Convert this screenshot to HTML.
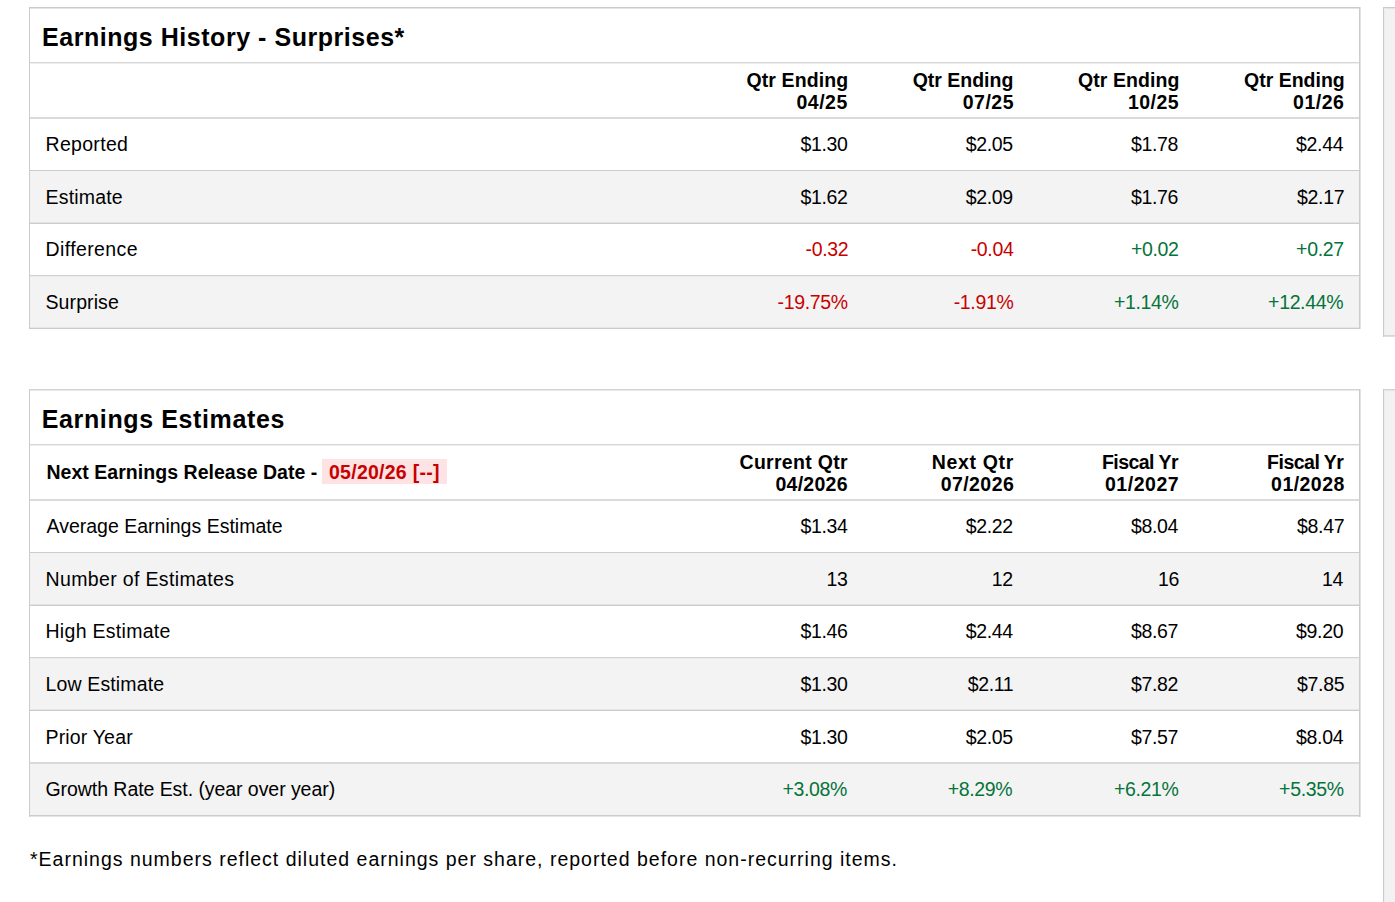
<!DOCTYPE html>
<html><head><meta charset="utf-8"><title>Earnings</title>
<style>
html,body{margin:0;padding:0;background:#fff;}
body{width:1395px;height:902px;overflow:hidden;position:relative;font-family:"Liberation Sans",sans-serif;}
.b{position:absolute;box-sizing:border-box;}
.t{position:absolute;white-space:pre;}
</style></head><body>

<div class="b" style="left:30px;top:171px;width:1329px;height:52px;background:#f3f3f3"></div>
<div class="b" style="left:30px;top:276px;width:1329px;height:52px;background:#f3f3f3"></div>
<div class="b" style="left:29px;top:7px;width:1px;height:322px;background:#cccccc"></div>
<div class="b" style="left:1359px;top:7px;width:1px;height:322px;background:#cccccc"></div>
<div class="b" style="left:1360px;top:7px;width:1px;height:322px;background:#e3e3e3"></div>
<div class="b" style="left:30px;top:7px;width:1329px;height:1px;background:#cbcbcb"></div>
<div class="b" style="left:30px;top:8px;width:1329px;height:1px;background:#e4e4e4"></div>
<div class="b" style="left:30px;top:62px;width:1329px;height:1px;background:#d6d6d6"></div>
<div class="b" style="left:30px;top:63px;width:1329px;height:1px;background:#efefef"></div>
<div class="b" style="left:30px;top:117px;width:1329px;height:1px;background:#dadada"></div>
<div class="b" style="left:30px;top:118px;width:1329px;height:1px;background:#dadada"></div>
<div class="b" style="left:30px;top:170px;width:1329px;height:1px;background:#cbcbcb"></div>
<div class="b" style="left:30px;top:222px;width:1329px;height:1px;background:#e2e2e2"></div>
<div class="b" style="left:30px;top:223px;width:1329px;height:1px;background:#cdcdcd"></div>
<div class="b" style="left:30px;top:275px;width:1329px;height:1px;background:#d0d0d0"></div>
<div class="b" style="left:30px;top:276px;width:1329px;height:1px;background:#ececec"></div>
<div class="b" style="left:30px;top:327px;width:1329px;height:1px;background:#e6e6e6"></div>
<div class="b" style="left:30px;top:328px;width:1329px;height:1px;background:#cacaca"></div>
<div class="b" style="left:30px;top:553px;width:1329px;height:52px;background:#f3f3f3"></div>
<div class="b" style="left:30px;top:658px;width:1329px;height:52px;background:#f3f3f3"></div>
<div class="b" style="left:30px;top:764px;width:1329px;height:52px;background:#f3f3f3"></div>
<div class="b" style="left:29px;top:389px;width:1px;height:428px;background:#cccccc"></div>
<div class="b" style="left:1359px;top:389px;width:1px;height:428px;background:#cccccc"></div>
<div class="b" style="left:1360px;top:389px;width:1px;height:428px;background:#e3e3e3"></div>
<div class="b" style="left:30px;top:389px;width:1329px;height:1px;background:#d3d3d3"></div>
<div class="b" style="left:30px;top:390px;width:1329px;height:1px;background:#e9e9e9"></div>
<div class="b" style="left:30px;top:444px;width:1329px;height:1px;background:#d6d6d6"></div>
<div class="b" style="left:30px;top:445px;width:1329px;height:1px;background:#eeeeee"></div>
<div class="b" style="left:30px;top:499px;width:1329px;height:1px;background:#dadada"></div>
<div class="b" style="left:30px;top:500px;width:1329px;height:1px;background:#dcdcdc"></div>
<div class="b" style="left:30px;top:552px;width:1329px;height:1px;background:#cccccc"></div>
<div class="b" style="left:30px;top:604px;width:1329px;height:1px;background:#e3e3e3"></div>
<div class="b" style="left:30px;top:605px;width:1329px;height:1px;background:#cccccc"></div>
<div class="b" style="left:30px;top:657px;width:1329px;height:1px;background:#d3d3d3"></div>
<div class="b" style="left:30px;top:658px;width:1329px;height:1px;background:#ececec"></div>
<div class="b" style="left:30px;top:709px;width:1329px;height:1px;background:#e6e6e6"></div>
<div class="b" style="left:30px;top:710px;width:1329px;height:1px;background:#cbcbcb"></div>
<div class="b" style="left:30px;top:762px;width:1329px;height:1px;background:#d8d8d8"></div>
<div class="b" style="left:30px;top:763px;width:1329px;height:1px;background:#dadada"></div>
<div class="b" style="left:30px;top:815px;width:1329px;height:1px;background:#cbcbcb"></div>
<div class="b" style="left:30px;top:816px;width:1329px;height:1px;background:#e5e5e5"></div>
<div class="b" style="left:1383px;top:7px;width:13px;height:330px;background:#f2f2f2"></div>
<div class="b" style="left:1383px;top:7px;width:1px;height:330px;background:#cbcbcb"></div>
<div class="b" style="left:1384px;top:7px;width:12px;height:1px;background:#cbcbcb"></div>
<div class="b" style="left:1384px;top:8px;width:12px;height:1px;background:#e4e4e4"></div>
<div class="b" style="left:1384px;top:335px;width:12px;height:1px;background:#d6d6d6"></div>
<div class="b" style="left:1384px;top:336px;width:12px;height:1px;background:#dedede"></div>
<div class="b" style="left:1384px;top:8px;width:1px;height:327px;background:#ededed"></div>
<div class="b" style="left:1383px;top:389px;width:13px;height:513px;background:#f2f2f2"></div>
<div class="b" style="left:1383px;top:389px;width:1px;height:513px;background:#cbcbcb"></div>
<div class="b" style="left:1384px;top:389px;width:12px;height:1px;background:#d3d3d3"></div>
<div class="b" style="left:1384px;top:390px;width:12px;height:1px;background:#e5e5e5"></div>
<div class="b" style="left:1384px;top:391px;width:1px;height:511px;background:#ededed"></div>
<div class="b" style="left:322px;top:459px;width:125px;height:25px;background:#fde3e3"></div>
<div class="t" id="t1" style="left:42.00px;top:25.00px;font-size:25px;line-height:25px;font-weight:700;color:#000;letter-spacing:0.536px">Earnings History - Surprises*</div>
<div class="t" id="t2" style="left:41.80px;top:406.50px;font-size:25px;line-height:25px;font-weight:700;color:#000;letter-spacing:0.618px">Earnings Estimates</div>
<div class="t" id="h1a0" style="left:746.50px;top:71.00px;font-size:19.5px;line-height:19.5px;font-weight:700;color:#000;letter-spacing:0.100px">Qtr Ending</div>
<div class="t" id="h1b0" style="left:796.50px;top:92.70px;font-size:19.5px;line-height:19.5px;font-weight:700;color:#000;letter-spacing:0.500px">04/25</div>
<div class="t" id="h1a1" style="left:912.70px;top:71.00px;font-size:19.5px;line-height:19.5px;font-weight:700;color:#000;letter-spacing:-0.011px">Qtr Ending</div>
<div class="t" id="h1b1" style="left:962.70px;top:92.70px;font-size:19.5px;line-height:19.5px;font-weight:700;color:#000;letter-spacing:0.500px">07/25</div>
<div class="t" id="h1a2" style="left:1077.90px;top:71.00px;font-size:19.5px;line-height:19.5px;font-weight:700;color:#000;letter-spacing:0.100px">Qtr Ending</div>
<div class="t" id="h1b2" style="left:1127.90px;top:92.70px;font-size:19.5px;line-height:19.5px;font-weight:700;color:#000;letter-spacing:0.500px">10/25</div>
<div class="t" id="h1a3" style="left:1244.10px;top:71.00px;font-size:19.5px;line-height:19.5px;font-weight:700;color:#000;letter-spacing:-0.011px">Qtr Ending</div>
<div class="t" id="h1b3" style="left:1293.10px;top:92.70px;font-size:19.5px;line-height:19.5px;font-weight:700;color:#000;letter-spacing:0.500px">01/26</div>
<div class="t" id="h2a0" style="left:739.50px;top:452.90px;font-size:19.5px;line-height:19.5px;font-weight:700;color:#000;letter-spacing:0.300px">Current Qtr</div>
<div class="t" id="h2b0" style="left:775.50px;top:474.70px;font-size:19.5px;line-height:19.5px;font-weight:700;color:#000;letter-spacing:0.250px">04/2026</div>
<div class="t" id="h2a1" style="left:931.70px;top:452.90px;font-size:19.5px;line-height:19.5px;font-weight:700;color:#000;letter-spacing:0.657px">Next Qtr</div>
<div class="t" id="h2b1" style="left:940.70px;top:474.70px;font-size:19.5px;line-height:19.5px;font-weight:700;color:#000;letter-spacing:0.433px">07/2026</div>
<div class="t" id="h2a2" style="left:1101.90px;top:452.90px;font-size:19.5px;line-height:19.5px;font-weight:700;color:#000;letter-spacing:-0.537px">Fiscal Yr</div>
<div class="t" id="h2b2" style="left:1104.90px;top:474.70px;font-size:19.5px;line-height:19.5px;font-weight:700;color:#000;letter-spacing:0.550px">01/2027</div>
<div class="t" id="h2a3" style="left:1267.10px;top:452.90px;font-size:19.5px;line-height:19.5px;font-weight:700;color:#000;letter-spacing:-0.512px">Fiscal Yr</div>
<div class="t" id="h2b3" style="left:1271.10px;top:474.70px;font-size:19.5px;line-height:19.5px;font-weight:700;color:#000;letter-spacing:0.450px">01/2028</div>
<div class="t" id="nerd" style="left:46.40px;top:462.90px;font-size:19.5px;line-height:19.5px;font-weight:700;color:#000;letter-spacing:0.041px">Next Earnings Release Date -</div>
<div class="t" id="badge" style="left:329.00px;top:462.90px;font-size:19.5px;line-height:19.5px;font-weight:700;color:#c80000;letter-spacing:0.258px">05/20/26 [--]</div>
<div class="t" id="p1l0" style="left:45.50px;top:134.90px;font-size:19.5px;line-height:19.5px;font-weight:400;color:#000;letter-spacing:0.314px">Reported</div>
<div class="t" id="p1v0_0" style="left:800.50px;top:134.90px;font-size:19.5px;line-height:19.5px;font-weight:400;color:#000;letter-spacing:-0.350px">$1.30</div>
<div class="t" id="p1v0_1" style="left:965.70px;top:134.90px;font-size:19.5px;line-height:19.5px;font-weight:400;color:#000;letter-spacing:-0.350px">$2.05</div>
<div class="t" id="p1v0_2" style="left:1130.90px;top:134.90px;font-size:19.5px;line-height:19.5px;font-weight:400;color:#000;letter-spacing:-0.350px">$1.78</div>
<div class="t" id="p1v0_3" style="left:1296.10px;top:134.90px;font-size:19.5px;line-height:19.5px;font-weight:400;color:#000;letter-spacing:-0.350px">$2.44</div>
<div class="t" id="p1l1" style="left:45.50px;top:187.90px;font-size:19.5px;line-height:19.5px;font-weight:400;color:#000;letter-spacing:0.186px">Estimate</div>
<div class="t" id="p1v1_0" style="left:800.50px;top:187.90px;font-size:19.5px;line-height:19.5px;font-weight:400;color:#000;letter-spacing:-0.350px">$1.62</div>
<div class="t" id="p1v1_1" style="left:965.70px;top:187.90px;font-size:19.5px;line-height:19.5px;font-weight:400;color:#000;letter-spacing:-0.350px">$2.09</div>
<div class="t" id="p1v1_2" style="left:1130.90px;top:187.90px;font-size:19.5px;line-height:19.5px;font-weight:400;color:#000;letter-spacing:-0.350px">$1.76</div>
<div class="t" id="p1v1_3" style="left:1297.10px;top:187.90px;font-size:19.5px;line-height:19.5px;font-weight:400;color:#000;letter-spacing:-0.350px">$2.17</div>
<div class="t" id="p1l2" style="left:45.50px;top:240.40px;font-size:19.5px;line-height:19.5px;font-weight:400;color:#000;letter-spacing:0.389px">Difference</div>
<div class="t" id="p1v2_0" style="left:805.50px;top:240.40px;font-size:19.5px;line-height:19.5px;font-weight:400;color:#c80000;letter-spacing:-0.350px">-0.32</div>
<div class="t" id="p1v2_1" style="left:970.70px;top:240.40px;font-size:19.5px;line-height:19.5px;font-weight:400;color:#c80000;letter-spacing:-0.350px">-0.04</div>
<div class="t" id="p1v2_2" style="left:1130.90px;top:240.40px;font-size:19.5px;line-height:19.5px;font-weight:400;color:#05743a;letter-spacing:-0.350px">+0.02</div>
<div class="t" id="p1v2_3" style="left:1296.10px;top:240.40px;font-size:19.5px;line-height:19.5px;font-weight:400;color:#05743a;letter-spacing:-0.350px">+0.27</div>
<div class="t" id="p1l3" style="left:45.50px;top:292.90px;font-size:19.5px;line-height:19.5px;font-weight:400;color:#000;letter-spacing:0.100px">Surprise</div>
<div class="t" id="p1v3_0" style="left:777.50px;top:292.90px;font-size:19.5px;line-height:19.5px;font-weight:400;color:#c80000;letter-spacing:-0.350px">-19.75%</div>
<div class="t" id="p1v3_1" style="left:953.70px;top:292.90px;font-size:19.5px;line-height:19.5px;font-weight:400;color:#c80000;letter-spacing:-0.350px">-1.91%</div>
<div class="t" id="p1v3_2" style="left:1113.90px;top:292.90px;font-size:19.5px;line-height:19.5px;font-weight:400;color:#05743a;letter-spacing:-0.350px">+1.14%</div>
<div class="t" id="p1v3_3" style="left:1268.10px;top:292.90px;font-size:19.5px;line-height:19.5px;font-weight:400;color:#05743a;letter-spacing:-0.350px">+12.44%</div>
<div class="t" id="p2l0" style="left:46.50px;top:516.90px;font-size:19.5px;line-height:19.5px;font-weight:400;color:#000;letter-spacing:0.004px">Average Earnings Estimate</div>
<div class="t" id="p2v0_0" style="left:800.50px;top:516.90px;font-size:19.5px;line-height:19.5px;font-weight:400;color:#000;letter-spacing:-0.350px">$1.34</div>
<div class="t" id="p2v0_1" style="left:965.70px;top:516.90px;font-size:19.5px;line-height:19.5px;font-weight:400;color:#000;letter-spacing:-0.350px">$2.22</div>
<div class="t" id="p2v0_2" style="left:1130.90px;top:516.90px;font-size:19.5px;line-height:19.5px;font-weight:400;color:#000;letter-spacing:-0.350px">$8.04</div>
<div class="t" id="p2v0_3" style="left:1297.10px;top:516.90px;font-size:19.5px;line-height:19.5px;font-weight:400;color:#000;letter-spacing:-0.350px">$8.47</div>
<div class="t" id="p2l1" style="left:45.50px;top:569.90px;font-size:19.5px;line-height:19.5px;font-weight:400;color:#000;letter-spacing:0.356px">Number of Estimates</div>
<div class="t" id="p2v1_0" style="left:826.50px;top:569.90px;font-size:19.5px;line-height:19.5px;font-weight:400;color:#000;letter-spacing:-0.350px">13</div>
<div class="t" id="p2v1_1" style="left:991.70px;top:569.90px;font-size:19.5px;line-height:19.5px;font-weight:400;color:#000;letter-spacing:-0.350px">12</div>
<div class="t" id="p2v1_2" style="left:1157.90px;top:569.90px;font-size:19.5px;line-height:19.5px;font-weight:400;color:#000;letter-spacing:-0.350px">16</div>
<div class="t" id="p2v1_3" style="left:1322.10px;top:569.90px;font-size:19.5px;line-height:19.5px;font-weight:400;color:#000;letter-spacing:-0.350px">14</div>
<div class="t" id="p2l2" style="left:45.50px;top:622.40px;font-size:19.5px;line-height:19.5px;font-weight:400;color:#000;letter-spacing:0.292px">High Estimate</div>
<div class="t" id="p2v2_0" style="left:800.50px;top:622.40px;font-size:19.5px;line-height:19.5px;font-weight:400;color:#000;letter-spacing:-0.350px">$1.46</div>
<div class="t" id="p2v2_1" style="left:965.70px;top:622.40px;font-size:19.5px;line-height:19.5px;font-weight:400;color:#000;letter-spacing:-0.350px">$2.44</div>
<div class="t" id="p2v2_2" style="left:1130.90px;top:622.40px;font-size:19.5px;line-height:19.5px;font-weight:400;color:#000;letter-spacing:-0.350px">$8.67</div>
<div class="t" id="p2v2_3" style="left:1296.10px;top:622.40px;font-size:19.5px;line-height:19.5px;font-weight:400;color:#000;letter-spacing:-0.350px">$9.20</div>
<div class="t" id="p2l3" style="left:45.50px;top:674.90px;font-size:19.5px;line-height:19.5px;font-weight:400;color:#000;letter-spacing:0.136px">Low Estimate</div>
<div class="t" id="p2v3_0" style="left:800.50px;top:674.90px;font-size:19.5px;line-height:19.5px;font-weight:400;color:#000;letter-spacing:-0.350px">$1.30</div>
<div class="t" id="p2v3_1" style="left:967.70px;top:674.90px;font-size:19.5px;line-height:19.5px;font-weight:400;color:#000;letter-spacing:-0.350px">$2.11</div>
<div class="t" id="p2v3_2" style="left:1130.90px;top:674.90px;font-size:19.5px;line-height:19.5px;font-weight:400;color:#000;letter-spacing:-0.350px">$7.82</div>
<div class="t" id="p2v3_3" style="left:1297.10px;top:674.90px;font-size:19.5px;line-height:19.5px;font-weight:400;color:#000;letter-spacing:-0.350px">$7.85</div>
<div class="t" id="p2l4" style="left:45.50px;top:727.90px;font-size:19.5px;line-height:19.5px;font-weight:400;color:#000;letter-spacing:0.167px">Prior Year</div>
<div class="t" id="p2v4_0" style="left:800.50px;top:727.90px;font-size:19.5px;line-height:19.5px;font-weight:400;color:#000;letter-spacing:-0.350px">$1.30</div>
<div class="t" id="p2v4_1" style="left:965.70px;top:727.90px;font-size:19.5px;line-height:19.5px;font-weight:400;color:#000;letter-spacing:-0.350px">$2.05</div>
<div class="t" id="p2v4_2" style="left:1130.90px;top:727.90px;font-size:19.5px;line-height:19.5px;font-weight:400;color:#000;letter-spacing:-0.350px">$7.57</div>
<div class="t" id="p2v4_3" style="left:1296.10px;top:727.90px;font-size:19.5px;line-height:19.5px;font-weight:400;color:#000;letter-spacing:-0.350px">$8.04</div>
<div class="t" id="p2l5" style="left:45.50px;top:780.40px;font-size:19.5px;line-height:19.5px;font-weight:400;color:#000;letter-spacing:-0.059px">Growth Rate Est. (year over year)</div>
<div class="t" id="p2v5_0" style="left:782.50px;top:780.40px;font-size:19.5px;line-height:19.5px;font-weight:400;color:#05743a;letter-spacing:-0.350px">+3.08%</div>
<div class="t" id="p2v5_1" style="left:947.70px;top:780.40px;font-size:19.5px;line-height:19.5px;font-weight:400;color:#05743a;letter-spacing:-0.350px">+8.29%</div>
<div class="t" id="p2v5_2" style="left:1113.90px;top:780.40px;font-size:19.5px;line-height:19.5px;font-weight:400;color:#05743a;letter-spacing:-0.350px">+6.21%</div>
<div class="t" id="p2v5_3" style="left:1279.10px;top:780.40px;font-size:19.5px;line-height:19.5px;font-weight:400;color:#05743a;letter-spacing:-0.350px">+5.35%</div>
<div class="t" id="foot" style="left:30.00px;top:849.70px;font-size:19.5px;line-height:19.5px;font-weight:400;color:#000;letter-spacing:0.997px">*Earnings numbers reflect diluted earnings per share, reported before non-recurring items.</div>
</body></html>
